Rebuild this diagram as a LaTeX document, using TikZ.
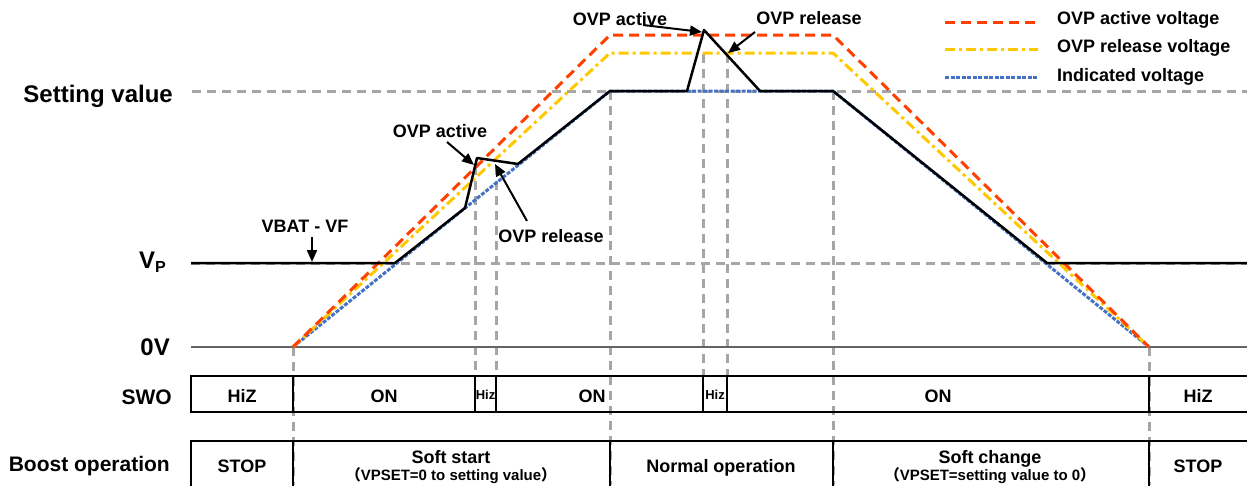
\documentclass[tikz,border=0pt]{standalone}
\usepackage{fontspec}
\setmainfont{Liberation Sans}
\newfontfamily\cjk{Noto Sans CJK JP}
\usetikzlibrary{arrows.meta}
\definecolor{gridgray}{RGB}{166,166,166}
\definecolor{zerogray}{RGB}{100,100,100}
\definecolor{ovpred}{RGB}{255,64,0}
\definecolor{ovpyellow}{RGB}{255,200,0}
\definecolor{indblue}{RGB}{68,114,196}
\tikzset{
  gridline/.style={draw=gridgray,line width=3pt,dash pattern=on 9pt off 6pt},
  zeroline/.style={draw=zerogray,line width=2pt},
  redline/.style={draw=ovpred,line width=3pt,dash pattern=on 10pt off 6pt},
  yelline/.style={draw=ovpyellow,line width=3pt,dash pattern=on 10pt off 4pt on 3pt off 4pt},
  blueline/.style={draw=indblue,line width=3pt,dash pattern=on 4pt off 1.5pt},
  outline/.style={draw=black,line width=2.5pt,line join=round},
  boxline/.style={draw=black,line width=2.5pt},
  callout/.style={draw=black,line width=2pt,-{Triangle[length=12pt,width=10pt]}},
  txt/.style={inner sep=0pt,font=\fontsize{18}{20}\selectfont\bfseries},
  bigtxt/.style={inner sep=0pt,font=\fontsize{24}{26}\selectfont\bfseries},
  midtxt/.style={inner sep=0pt,font=\fontsize{21}{23}\selectfont\bfseries},
  smalltxt/.style={inner sep=0pt,font=\fontsize{15}{17}\selectfont\bfseries},
  tinytxt/.style={inner sep=0pt,font=\fontsize{13}{15}\selectfont\bfseries},
}
\begin{document}
\begin{tikzpicture}[x=1pt,y=-1pt]
\useasboundingbox (0,0) rectangle (1247,485);
% ---------- reference coordinates ----------
\coordinate (sv0) at (192,91);  \coordinate (sv1) at (1247,91);
\coordinate (vp0) at (191,263); \coordinate (vp1) at (1247,263);
\coordinate (z0)  at (191,347); \coordinate (z1)  at (1247,347);
% start / end points of ramps
\coordinate (s0) at (293,347);
\coordinate (s1) at (1149,347);
% red, yellow, blue corners
\coordinate (r1) at (610,35);  \coordinate (r2) at (833,35);
\coordinate (y1) at (610,53);  \coordinate (y2) at (833,53);
\coordinate (b1) at (610,91);  \coordinate (b2) at (833,91);
% black output curve
\coordinate (kA) at (191,263);
\coordinate (kB) at (395,263);
\coordinate (kC) at (465,208);
\coordinate (kD) at (477,158);
\coordinate (kE) at (518,164);
\coordinate (kF) at (610,91);
\coordinate (kG) at (687,91);
\coordinate (kH) at (704,30);
\coordinate (kI) at (760,91);
\coordinate (kJ) at (833,91);
\coordinate (kK) at (1047,263);
\coordinate (kL) at (1247,263);
% vertical guide tops / bottoms
\coordinate (v1t) at (293,347); \coordinate (v1b) at (293,485);
\coordinate (v2t) at (475,166); \coordinate (v2b) at (475,376);
\coordinate (v3t) at (496,166); \coordinate (v3b) at (496,376);
\coordinate (v4t) at (610,91);  \coordinate (v4b) at (610,485);
\coordinate (v5t) at (703,54);  \coordinate (v5b) at (703,376);
\coordinate (v6t) at (727,54);  \coordinate (v6b) at (727,376);
\coordinate (v7t) at (833,91);  \coordinate (v7b) at (833,485);
\coordinate (v8t) at (1149,347);\coordinate (v8b) at (1149,485);

% ---------- grid ----------
\draw[gridline] (sv0) -- (sv1);
\draw[gridline] (vp0) -- (vp1);
\draw[gridline] (v1t) -- (v1b);
\draw[gridline] (v2t) -- (v2b);
\draw[gridline] (v3t) -- (v3b);
\draw[gridline] (v4t) -- (v4b);
\draw[gridline] (v5t) -- (v5b);
\draw[gridline] (v6t) -- (v6b);
\draw[gridline] (v7t) -- (v7b);
\draw[gridline] (v8t) -- (v8b);
\draw[zeroline] (z0) -- (z1);

% ---------- voltage traces ----------
\draw[blueline] (s0) -- (b1) -- (b2) -- (s1);
\draw[yelline] (s0) -- (y1) -- (y2) -- (s1);
\draw[redline] (s0) -- (r1) -- (r2) -- (s1);
\draw[outline] (kA) -- (kB) -- (kC) -- (kD) -- (kE) -- (kF) -- (kG) -- (kH) -- (kI) -- (kJ) -- (kK) -- (kL);

% ---------- axis labels ----------
\node[bigtxt,anchor=base east] (lsv) at (173,102) {Setting value};
\node[bigtxt,anchor=base west] (lvp) at (139,268) {V\raisebox{-4pt}{\fontsize{16}{16}\selectfont P}};
\node[bigtxt,anchor=base east] (l0v) at (170,355) {0V};
\node[midtxt,anchor=base east] (lswo) at (172,404) {SWO};
\node[midtxt,anchor=base east] (lbo) at (170,471) {Boost operation};

% ---------- callouts ----------
\node[txt] (vbat) at (305,226) {VBAT - VF};
\coordinate (vbatA) at (312,237); \coordinate (vbatB) at (312,262);
\draw[callout] (vbatA) -- (vbatB);

\node[txt] (oa1) at (440,131) {OVP active};
\coordinate (oa1s) at (447,142); \coordinate (oa1e) at (474,165);
\draw[callout] (oa1s) -- (oa1e);

\node[txt] (or1) at (551,236) {OVP release};
\coordinate (or1s) at (527,221); \coordinate (or1e) at (495,164);
\draw[callout] (or1s) -- (or1e);

\node[txt] (oa2) at (620,19) {OVP active};
\coordinate (oa2s) at (643,25); \coordinate (oa2e) at (702,32);
\draw[callout] (oa2s) -- (oa2e);

\node[txt] (or2) at (809,18) {OVP release};
\coordinate (or2s) at (755,32); \coordinate (or2e) at (728,53);
\draw[callout] (or2s) -- (or2e);

% ---------- legend ----------
\coordinate (lg1a) at (945,22); \coordinate (lg1b) at (1038,22);
\coordinate (lg2a) at (945,49); \coordinate (lg2b) at (1038,49);
\coordinate (lg3a) at (945,77); \coordinate (lg3b) at (1038,77);
\draw[redline] (lg1a) -- (lg1b);
\draw[yelline] (lg2a) -- (lg2b);
\draw[blueline] (lg3a) -- (lg3b);
\node[txt,anchor=west] (lgt1) at (1057,20) {OVP active voltage};
\node[txt,anchor=west] (lgt2) at (1057,48) {OVP release voltage};
\node[txt,anchor=west] (lgt3) at (1057,77) {Indicated voltage};

% ---------- SWO row ----------
\coordinate (sw0) at (191,376); \coordinate (sw1) at (1247,376);
\coordinate (sw2) at (191,412); \coordinate (sw3) at (1247,412);
\draw[boxline] (sw1) -- (sw0) -- (sw2) -- (sw3);
\foreach \xx in {293,475,496,703,727,1149}{
  \draw[boxline] (\xx,376) -- (\xx,412);
}
\node[txt,anchor=base] (swa) at (242,402) {HiZ};
\node[txt,anchor=base] (swb) at (384,402) {ON};
\node[tinytxt,anchor=base] (swc) at (485.5,399) {Hiz};
\node[txt,anchor=base] (swd) at (592,402) {ON};
\node[tinytxt,anchor=base] (swe) at (715,399) {Hiz};
\node[txt,anchor=base] (swf) at (938,402) {ON};
\node[txt,anchor=base] (swg) at (1198,402) {HiZ};

% ---------- Boost operation row ----------
\coordinate (bo0) at (191,441); \coordinate (bo1) at (1247,441);
\coordinate (bo2) at (191,486);
\draw[boxline] (bo1) -- (bo0) -- (bo2);
\foreach \xx in {293,610,833,1149}{
  \draw[boxline] (\xx,441) -- (\xx,486);
}
\node[txt,anchor=base] (boa) at (242,472) {STOP};
\node[txt,anchor=base] (bob) at (451,463) {Soft start};
\node[smalltxt,anchor=base] (bob2) at (451,480) {{\cjk （}VPSET=0 to setting value{\cjk ）}};
\node[txt,anchor=base] (boc) at (721,472) {Normal operation};
\node[txt,anchor=base] (bod) at (990,463) {Soft change};
\node[smalltxt,anchor=base] (bod2) at (990,480) {{\cjk （}VPSET=setting value to 0{\cjk ）}};
\node[txt,anchor=base] (boe) at (1198,472) {STOP};
\end{tikzpicture}
\end{document}
